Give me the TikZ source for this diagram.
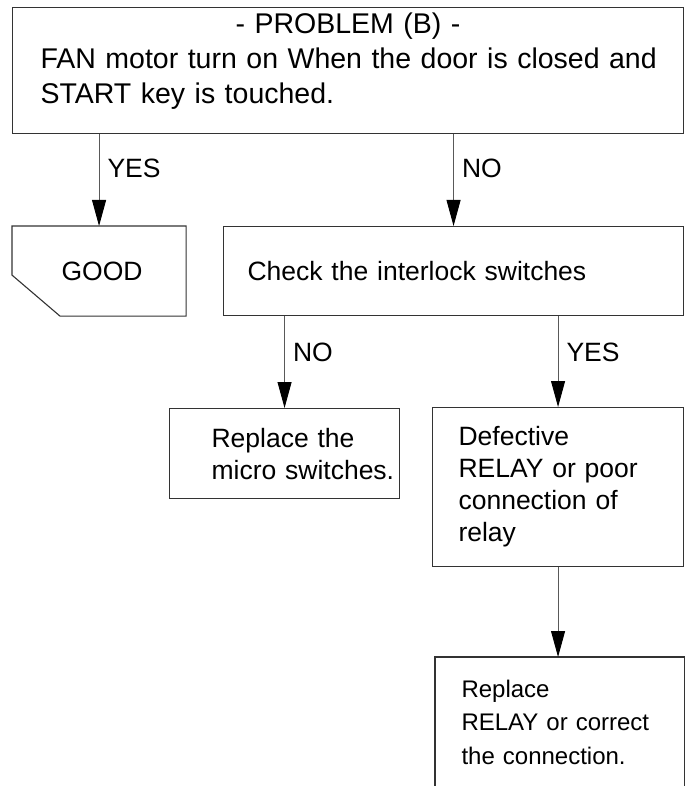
\documentclass[tikz,border=0pt]{standalone}
\usepackage{fontspec}
\setmainfont{Liberation Sans}
\usetikzlibrary{arrows.meta,positioning}

\begin{document}
\begin{tikzpicture}[
  x=1pt, y=-1pt,
  font=\fontsize{26.5}{32}\selectfont,
  box/.style={draw=black!80, line width=1.1pt, anchor=north west, align=left, inner ysep=0pt},
  outline/.style={draw=black!80, line width=1.1pt},
  arrow/.style={-{Triangle[length=26pt,width=14pt,black]}, line width=0.9pt, draw=black!65},
  lbl/.style={anchor=west, inner sep=0pt, xshift=8pt}
]
  \useasboundingbox (0,0) rectangle (691,786);

  \node[box, minimum width=671pt, minimum height=126pt, text width=643pt, inner xsep=14pt, text depth=94pt,
        font=\fontsize{28.5}{35}\selectfont] (problem) at (12,7)
    {\makebox[\linewidth]{- PROBLEM (B) -}\\\mbox{}\hspace{14pt}FAN motor turn on When the door is closed and\\\mbox{}\hspace{14pt}START key is touched.};

  \node[box, draw=none, align=center, minimum width=173pt, minimum height=89pt] (good) at (12,226) {\hspace*{6pt}GOOD};
  \node[box, minimum width=460pt, minimum height=89pt, text width=412pt, inner xsep=24pt] (interlock) at (223,226)
    {Check the interlock switches};

  \node[box, minimum width=230pt, minimum height=90pt, text width=146pt, inner xsep=42pt] (replace) at (169,408)
    {\mbox{Replace the}\\\mbox{micro switches.}};
  \node[box, minimum width=251pt, minimum height=159pt, text width=199pt, inner xsep=26pt] (relay) at (432,407)
    {Defective\\RELAY or poor\\connection of\\relay};

  \node[box, draw=none, minimum width=248pt, minimum height=129pt, text width=196pt, inner xsep=26pt,
        font=\fontsize{24}{33.5}\selectfont] (fix) at (435,657)
    {Replace\\RELAY or correct\\the connection.};

  % shapes with a cut corner and an open side
  \draw[outline] (good.north west) -- (good.north east) -- (good.south east)
    -- ([xshift=48pt]good.south west) -- ([yshift=41pt]good.south west) -- cycle;
  \draw[outline] (fix.south west) -- (fix.north west) -- (fix.north east) -- (fix.south east);

  \draw[arrow] (good.north |- problem.south) -- node[lbl, pos=0.37] {YES} (good.north);
  \draw[arrow] (interlock.north |- problem.south) -- node[lbl, pos=0.37] {NO} (interlock.north);
  \draw[arrow] (replace.north |- interlock.south) -- node[lbl, pos=0.4] {NO} (replace.north);
  \draw[arrow] (relay.north |- interlock.south) -- node[lbl, pos=0.4] {YES} (relay.north);
  \draw[arrow] (relay.south) -- (relay.south |- fix.north);
\end{tikzpicture}
\end{document}
